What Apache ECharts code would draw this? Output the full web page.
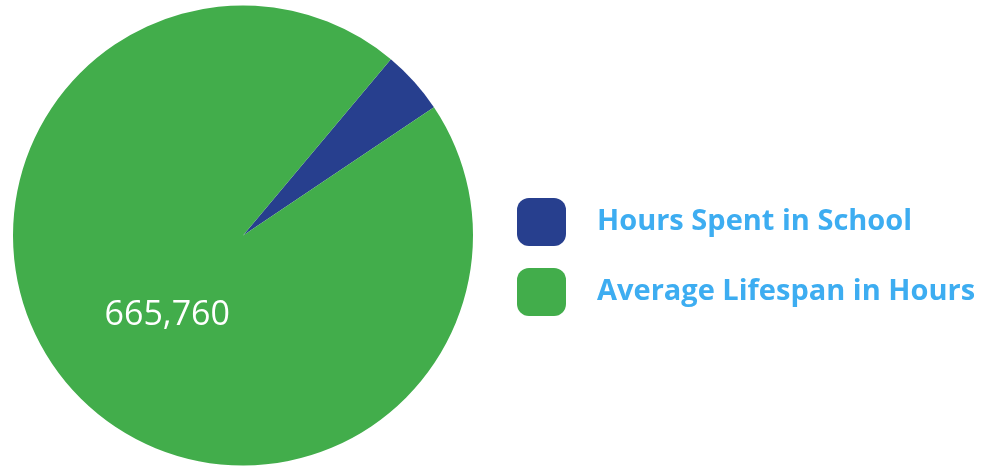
<!DOCTYPE html>
<html>
<head>
<meta charset="utf-8">
<style>
	html, body { margin: 0; padding: 0; background: #fff; }
	#chart { width: 989px; height: 466px; }
</style>
<script src="https://cdn.jsdelivr.net/npm/echarts@6/dist/echarts.min.js"></script>
</head>
<body>
<div id="chart"></div>
<script>
// 图表数据
var categories = ['Hours Spent in School', 'Average Lifespan in Hours'];
var hours = [31200, 665760];
var colors = ['#273f8e', '#42ad4b'];
// 只在寿命那一块显示数值
var showLabel = [false, true];

var myChart = echarts.init(document.getElementById('chart'));
var pieData = categories.map(function(name, i) {
	return {
		name : name,
		value : hours[i],
		itemStyle : { color : colors[i] },
		label : { show : showLabel[i] }
	};
});

var option = {
	animation : false,
	legend : {
		orient : 'vertical',
		left : 512,
		top : 193,
		itemWidth : 49,
		itemHeight : 48,
		itemGap : 22,
		icon : 'roundRect',
		data : categories,
		textStyle : {
			color : '#3dadf1',
			fontFamily : 'Open Sans',
			fontWeight : 'bold',
			fontSize : 29,
			padding : [0, 0, 0, 26]
		}
	},
	series : [ {
		type : 'pie',
		center : [243, 235.5],
		radius : 230,
		startAngle : 50,
		clockwise : true,
		silent : true,
		label : {
			position : 'inner',
			color : '#fff',
			fontFamily : 'Open Sans',
			fontWeight : 'normal',
			fontSize : 34,
			offset : [12, 1],
			formatter : function(p) {
				return p.value.toLocaleString('en-US');
			}
		},
		labelLine : { show : false },
		data : pieData
	} ]
};
myChart.setOption(option);
</script>
</body>
</html>
